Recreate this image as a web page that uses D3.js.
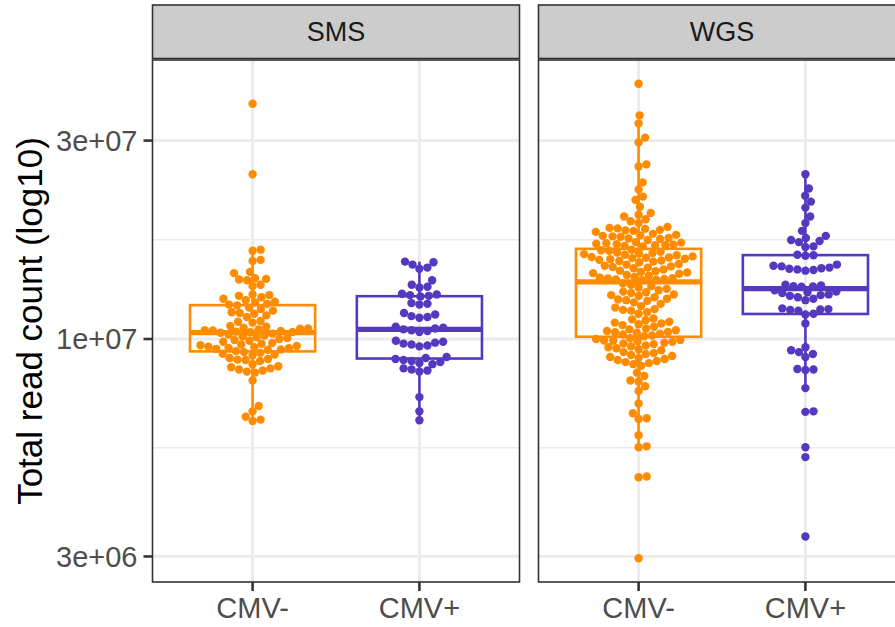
<!DOCTYPE html>
<html>
<head>
<meta charset="utf-8">
<script src="https://cdn.jsdelivr.net/npm/d3@7"></script>
<style>
  body { margin: 0; background: #fff; }
  svg text { font-family: "Liberation Sans", Arial, Helvetica, sans-serif; }
</style>
</head>
<body>
<div id="chart"></div>
<script>
// total read counts, in millions
const panels = ["SMS", "WGS"];
const groups = ["CMV-", "CMV+"];

const smsNeg = [36.8, 24.9, 16.4, 16.3, 15.5, 15.4, 14.5, 14.4, 14.0, 13.95, 13.9, 13.85, 13.5, 13.4,
  12.8, 12.75, 12.7, 12.6, 12.5, 12.4, 12.3, 12.25, 12.15, 12.1, 12.05,
  11.9, 11.8, 11.7, 11.6, 11.55, 11.5, 11.4, 11.3, 11.05, 11.0, 10.95,
  10.75, 10.7, 10.65, 10.6, 10.58, 10.55, 10.5, 10.48, 10.45, 10.42, 10.4, 10.38, 10.35, 10.3, 10.25,
  10.2, 10.15, 10.1, 10.05, 10.0, 9.95, 9.9, 9.85,
  9.78, 9.74, 9.7, 9.66, 9.62, 9.58, 9.55, 9.52, 9.5, 9.47, 9.44, 9.42,
  9.35, 9.3, 9.26, 9.22, 9.18, 9.14, 9.0, 8.95, 8.92, 8.9, 8.85,
  8.7, 8.6, 8.55, 8.5, 8.45, 8.4, 8.35, 8.3, 7.95, 6.9, 6.7, 6.5, 6.4, 6.35];

const smsPos = [15.35, 15.3, 15.1, 14.85, 14.75, 13.85, 13.5, 13.35, 13.3,
  12.85, 12.8, 12.75, 12.7, 12.65, 12.2, 12.15, 12.1, 11.55, 11.45, 11.35, 11.3, 11.25,
  10.7, 10.65, 10.6, 10.55, 10.5, 10.45, 10.4, 9.9, 9.85, 9.8, 9.75, 9.7, 9.65, 9.6,
  9.05, 9.0, 8.95, 8.9, 8.85, 8.8, 8.75, 8.7, 8.5, 8.45, 8.4, 8.35, 7.25, 6.7, 6.38];

const wgsNeg = [41.1, 34.5, 33.0, 30.5, 29.7, 26.3, 26.0, 23.8, 22.9, 22.0, 21.6, 20.8,
  20.1, 19.9, 19.7, 19.4, 19.2, 19.0,
  18.6, 18.5, 18.45, 18.4, 18.3, 18.25, 18.2, 18.1,
  17.9, 17.8, 17.75, 17.7, 17.65, 17.6, 17.5, 17.45, 17.4, 17.3,
  17.1, 17.05, 17.0, 16.95, 16.9, 16.85, 16.8, 16.8, 16.75, 16.7,
  16.4, 16.35, 16.3, 16.2, 16.15, 16.1, 16.05, 16.0, 15.95, 15.9,
  15.8, 15.75, 15.7, 15.68, 15.65, 15.6, 15.55, 15.5, 15.45, 15.4, 15.35, 15.3,
  15.15, 15.1, 15.0, 14.95, 14.9, 14.85, 14.8, 14.7,
  14.6, 14.55, 14.5, 14.45, 14.4, 14.35, 14.25, 14.2,
  14.1, 14.05, 14.0, 13.98, 13.95, 13.9, 13.88, 13.85,
  13.6, 13.5, 13.4, 13.3, 13.2, 13.1,
  13.0, 12.95, 12.9, 12.8, 12.75, 12.7,
  12.6, 12.5, 12.45, 12.4, 12.35, 12.25, 12.15,
  12.0, 11.9, 11.8, 11.75, 11.7, 11.6, 11.5,
  11.2, 11.15, 11.1, 11.0, 10.95, 10.9, 10.85, 10.8, 10.7, 10.6,
  10.55, 10.5, 10.45, 10.4, 10.38, 10.35, 10.3, 10.25, 10.2, 10.15,
  10.05, 10.0, 9.95, 9.92, 9.9, 9.88, 9.85, 9.8, 9.75, 9.72,
  9.65, 9.6, 9.55, 9.5, 9.45, 9.4,
  9.3, 9.25, 9.2, 9.15, 9.1, 9.05, 9.0,
  8.95, 8.9, 8.85, 8.8, 8.75, 8.7, 8.62,
  8.3, 8.15, 7.95, 7.9, 7.7, 7.5,
  7.0, 6.63, 6.45, 6.42, 5.87, 5.52, 5.49, 4.67, 4.65, 2.97];

const wgsPos = [24.9, 23.0, 22.1, 21.4, 20.7, 19.7, 19.0, 18.2,
  17.7, 17.5, 17.3, 17.2, 17.1, 16.7, 16.65, 15.95, 15.9, 15.85,
  15.1, 15.0, 14.95, 14.85, 14.8, 14.75, 14.7, 14.65, 14.6,
  13.5, 13.45, 13.4, 13.38, 13.35,
  13.1, 13.0, 12.95, 12.9, 12.8, 12.75, 12.7, 12.6, 12.5, 12.4,
  11.85, 11.8, 11.78, 11.75, 11.7, 11.5, 11.45, 10.9,
  9.55, 9.4, 9.3, 9.2, 9.05, 8.47, 8.45, 8.42, 7.62, 6.7, 6.68, 5.49, 5.2, 3.35];

const yTicks = [3e6, 1e7, 3e7];
const yTickLabels = ["3e+06", "1e+07", "3e+07"];
const colors = { "CMV-": "#FF8C00", "CMV+": "#5438BF" };

const series = [
  { panel: "SMS", group: "CMV-", values: smsNeg },
  { panel: "SMS", group: "CMV+", values: smsPos },
  { panel: "WGS", group: "CMV-", values: wgsNeg },
  { panel: "WGS", group: "CMV+", values: wgsPos }
];

// layout
const width = 895, height = 627;
const panelW = 367, panelTop = 60, panelBottom = 582;
const stripTop = 5;
const panelX = d3.scaleOrdinal().domain(panels).range([152.5, 538.5]);

const svg = d3.select("#chart").append("svg")
  .attr("width", width)
  .attr("height", height);

// log y scale, 5% expansion like ggplot
const allVals = series.flatMap(s => s.values.map(v => v * 1e6));
const lo = Math.log10(d3.min(allVals)), hi = Math.log10(d3.max(allVals));
const pad = (hi - lo) * 0.05;
const y = d3.scaleLog()
  .domain([Math.pow(10, lo - pad), Math.pow(10, hi + pad)])
  .range([panelBottom, panelTop]);

const x = d3.scalePoint().domain(groups).range([0, panelW]).padding(0.6);
const minorTicks = d3.pairs(yTicks).map(([a, b]) => Math.sqrt(a * b));

const r = 4.2, dia = 8.1;

// simple swarm layout (ascending priority) in pixel space
function swarm(values, cx) {
  const pts = values.map(v => ({ v: v * 1e6, py: y(v * 1e6) }))
    .sort((a, b) => b.py - a.py);
  const placed = [];
  pts.forEach(p => {
    const near = placed.filter(q => Math.abs(q.py - p.py) < dia);
    const plus = [], minus = [];
    near.forEach(q => {
      const off = Math.sqrt(dia * dia - (q.py - p.py) ** 2);
      plus.push(q.dx + off);
      minus.push(q.dx - off);
    });
    const cands = [0, ...plus, ...minus].filter(c =>
      near.every(q => (c - q.dx) ** 2 + (p.py - q.py) ** 2 >= dia * dia - 1e-6));
    p.dx = cands.reduce((best, c) => Math.abs(c) < Math.abs(best) ? c : best);
    placed.push(p);
  });
  return placed.map(p => ({ x: cx + p.dx, y: p.py }));
}

function boxStats(values) {
  const lv = values.map(v => Math.log10(v * 1e6)).sort(d3.ascending);
  const q1 = d3.quantile(lv, 0.25), med = d3.quantile(lv, 0.5), q3 = d3.quantile(lv, 0.75);
  const iqr = q3 - q1;
  const inside = lv.filter(v => v >= q1 - 1.5 * iqr && v <= q3 + 1.5 * iqr);
  const p = v => Math.pow(10, v);
  return { q1: p(q1), med: p(med), q3: p(q3), lo: p(d3.min(inside)), hi: p(d3.max(inside)) };
}

panels.forEach(panel => {
  const g = svg.append("g").attr("transform", `translate(${panelX(panel)},0)`);

  // background + grid
  g.append("rect")
    .attr("x", 0).attr("y", panelTop)
    .attr("width", panelW).attr("height", panelBottom - panelTop)
    .attr("fill", "#fff");

  g.selectAll(".minor").data(minorTicks).enter().append("line")
    .attr("x1", 0).attr("x2", panelW)
    .attr("y1", d => y(d)).attr("y2", d => y(d))
    .attr("stroke", "#EBEBEB").attr("stroke-width", 1.4);

  g.selectAll(".major").data(yTicks).enter().append("line")
    .attr("x1", 0).attr("x2", panelW)
    .attr("y1", d => y(d)).attr("y2", d => y(d))
    .attr("stroke", "#EBEBEB").attr("stroke-width", 2.8);

  g.selectAll(".vgrid").data(groups).enter().append("line")
    .attr("x1", d => x(d)).attr("x2", d => x(d))
    .attr("y1", panelTop).attr("y2", panelBottom)
    .attr("stroke", "#EBEBEB").attr("stroke-width", 2.8);

  const bw = x.step() * 0.75;

  series.filter(s => s.panel === panel).forEach(s => {
    const cx = x(s.group), col = colors[s.group];
    const st = boxStats(s.values);

    // whiskers
    g.append("line")
      .attr("x1", cx).attr("x2", cx)
      .attr("y1", y(st.q3)).attr("y2", y(st.hi))
      .attr("stroke", col).attr("stroke-width", 2.6);
    g.append("line")
      .attr("x1", cx).attr("x2", cx)
      .attr("y1", y(st.q1)).attr("y2", y(st.lo))
      .attr("stroke", col).attr("stroke-width", 2.6);

    // box
    g.append("rect")
      .attr("x", cx - bw / 2).attr("y", y(st.q3))
      .attr("width", bw).attr("height", y(st.q1) - y(st.q3))
      .attr("fill", "none")
      .attr("stroke", col).attr("stroke-width", 2.6);

    g.append("line")
      .attr("x1", cx - bw / 2).attr("x2", cx + bw / 2)
      .attr("y1", y(st.med)).attr("y2", y(st.med))
      .attr("stroke", col).attr("stroke-width", 5.2);

    // points
    g.selectAll(null).data(swarm(s.values, cx)).enter().append("circle")
      .attr("cx", d => d.x).attr("cy", d => d.y)
      .attr("r", r)
      .attr("fill", col);
  });

  // panel border
  g.append("rect")
    .attr("x", 0).attr("y", panelTop)
    .attr("width", panelW).attr("height", panelBottom - panelTop)
    .attr("fill", "none").attr("stroke", "#333").attr("stroke-width", 1.6);

  // strip
  g.append("rect")
    .attr("x", 0).attr("y", stripTop)
    .attr("width", panelW).attr("height", panelTop - stripTop - 1.5)
    .attr("fill", "#CCCCCC").attr("stroke", "#333").attr("stroke-width", 1.6);

  g.append("text")
    .attr("x", panelW / 2).attr("y", 41)
    .attr("text-anchor", "middle")
    .attr("font-size", 27)
    .attr("fill", "#1A1A1A")
    .text(panel);

  // x ticks + labels
  g.selectAll(".xtick").data(groups).enter().append("line")
    .attr("x1", d => x(d)).attr("x2", d => x(d))
    .attr("y1", panelBottom).attr("y2", panelBottom + 9)
    .attr("stroke", "#333").attr("stroke-width", 2.6);

  g.selectAll(".xlab").data(groups).enter().append("text")
    .attr("x", d => x(d)).attr("y", 618)
    .attr("text-anchor", "middle")
    .attr("font-size", 29)
    .attr("fill", "#4D4D4D")
    .text(d => d);
});

// y axis (left panel only)
const yAxis = svg.append("g").attr("transform", `translate(${panelX("SMS")},0)`);
yAxis.selectAll("line").data(yTicks).enter().append("line")
  .attr("x1", -9).attr("x2", 0)
  .attr("y1", d => y(d)).attr("y2", d => y(d))
  .attr("stroke", "#333").attr("stroke-width", 2.6);
yAxis.selectAll("text").data(yTicks).enter().append("text")
  .attr("x", -15).attr("y", d => y(d))
  .attr("dy", "0.36em")
  .attr("text-anchor", "end")
  .attr("font-size", 29)
  .attr("fill", "#4D4D4D")
  .text((d, i) => yTickLabels[i]);

svg.append("text")
  .attr("transform", `translate(42,${(panelTop + panelBottom) / 2}) rotate(-90)`)
  .attr("text-anchor", "middle")
  .attr("font-size", 35)
  .attr("fill", "#000")
  .text("Total read count (log10)");
</script>
</body>
</html>
